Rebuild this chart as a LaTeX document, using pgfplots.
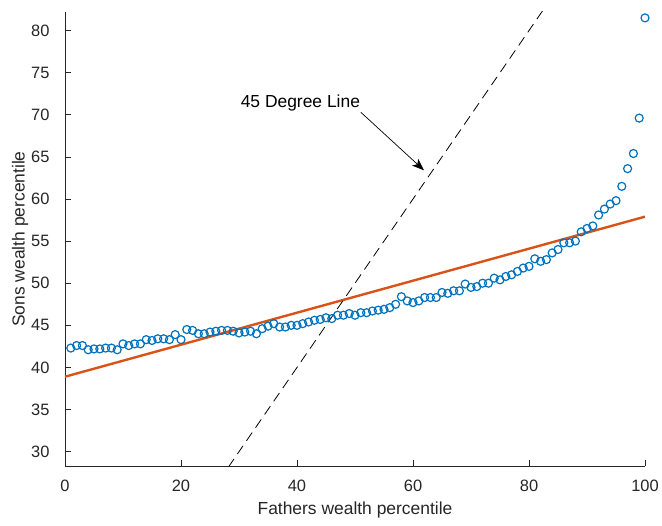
\documentclass[border=0pt]{standalone}
\usepackage{pgfplots}
\pgfplotsset{compat=1.18}
\usepackage{fontspec}
\setmainfont{Liberation Sans}
\usetikzlibrary{arrows.meta}
\definecolor{mblue}{rgb}{0,0.447,0.741}
\definecolor{mred}{rgb}{0.85,0.325,0.098}
\definecolor{axgray}{rgb}{0.15,0.15,0.15}
\begin{document}
\begin{tikzpicture}
\path[use as bounding box] (-65bp,-60bp) rectangle (597bp,466bp);
\begin{axis}[
  at={(0,0)}, anchor=south west,
  width=580bp, height=454bp, scale only axis,
  xmin=0, xmax=100, ymin=28.3, ymax=82.2,
  axis x line*=bottom, axis y line*=left,
  axis line style={axgray, line width=0.6bp, -},
  xtick={0,20,...,100}, ytick={30,35,...,80},
  tick align=inside, major tick length=6bp,
  tick style={axgray, line width=0.6bp},
  ticklabel style={font=\fontsize{16.5}{18}\selectfont, text=axgray},
  xticklabel style={yshift=-11bp},
  yticklabel style={xshift=-12bp},
  /pgf/number format/assume math mode=true,
  xlabel={Fathers wealth percentile}, ylabel={Sons wealth percentile},
  label style={font=\fontsize{17.5}{20}\selectfont, text=axgray},
  xlabel style={at={(axis description cs:0.5,0)}, anchor=center, yshift=-44bp},
  ylabel style={at={(axis description cs:0,0.5)}, anchor=center, yshift=45bp},
  clip=true,
]
\addplot[only marks, mark=o, mark size=4bp, mark options={mblue, line width=1.2bp}] coordinates {
(1,42.3) (2,42.6) (3,42.6) (4,42.1) (5,42.2) (6,42.2) (7,42.3) (8,42.3) (9,42.1) (10,42.8)
(11,42.6) (12,42.8) (13,42.8) (14,43.3) (15,43.2) (16,43.4) (17,43.4) (18,43.3) (19,43.9) (20,43.3)
(21,44.5) (22,44.4) (23,44.0) (24,44.0) (25,44.2) (26,44.3) (27,44.4) (28,44.4) (29,44.3) (30,44.1)
(31,44.2) (32,44.3) (33,44.0) (34,44.6) (35,44.9) (36,45.2) (37,44.8) (38,44.8) (39,45.0) (40,45.0)
(41,45.2) (42,45.4) (43,45.6) (44,45.7) (45,45.9) (46,45.8) (47,46.2) (48,46.2) (49,46.4) (50,46.2)
(51,46.5) (52,46.5) (53,46.7) (54,46.8) (55,46.9) (56,47.1) (57,47.5) (58,48.4) (59,47.9) (60,47.7)
(61,47.9) (62,48.3) (63,48.3) (64,48.3) (65,48.9) (66,48.8) (67,49.1) (68,49.1) (69,49.9) (70,49.5)
(71,49.6) (72,50.0) (73,50.0) (74,50.6) (75,50.4) (76,50.8) (77,51.0) (78,51.4) (79,51.8) (80,52.0)
(81,52.9) (82,52.6) (83,52.8) (84,53.6) (85,54.0) (86,54.8) (87,54.8) (88,55.0) (89,56.1) (90,56.5)
(91,56.8) (92,58.1) (93,58.8) (94,59.4) (95,59.8) (96,61.5) (97,63.6) (98,65.4) (99,69.6) (100,81.5)
};
\addplot[mred, line width=2.4bp] coordinates {(0,38.9) (100,57.9)};
\addplot[black, line width=0.8bp, dash pattern=on 10bp off 6bp] coordinates {(0,0) (100,100)};
\node[anchor=east, font=\fontsize{17.5}{20}\selectfont, inner sep=0pt] at (axis cs:50.9,71.45) {45 Degree Line};
\draw[black, line width=0.7bp, -{Stealth[length=12bp, width=9bp, inset=3bp]}] (axis cs:51.0,70.3) -- (axis cs:61.9,63.4);
\end{axis}
\end{tikzpicture}
\end{document}
